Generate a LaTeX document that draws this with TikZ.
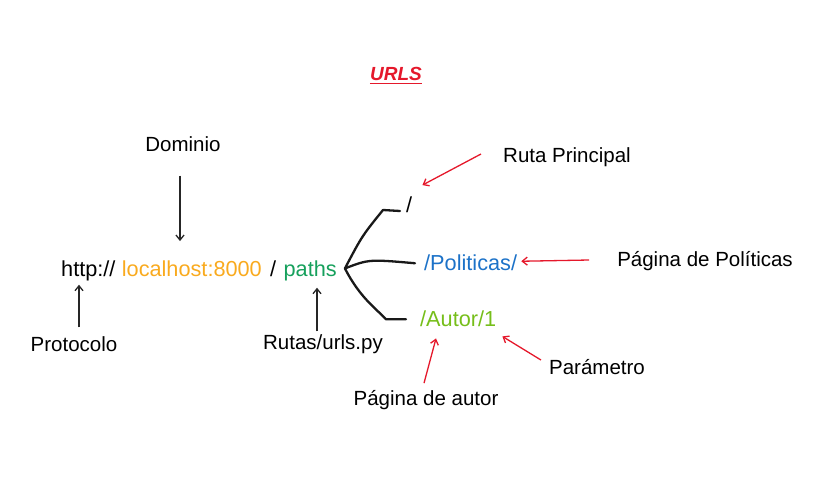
\documentclass[tikz,border=0pt]{standalone}
\usepackage{fontspec}
\setmainfont{Liberation Sans}
\usetikzlibrary{arrows.meta,calc,positioning}
\definecolor{naranja}{HTML}{F9AA1E}
\definecolor{verde}{HTML}{16A05C}
\definecolor{azul}{HTML}{1C72C8}
\definecolor{lima}{HTML}{76BE1A}
\definecolor{rojo}{HTML}{E5182B}
\begin{document}
\begin{tikzpicture}[
  x=1pt, y=-1pt,
  every node/.style={inner sep=0pt, font=\fontsize{20.5}{24}\selectfont},
  url/.style={anchor=base west, font=\fontsize{21.7}{26}\selectfont},
  flecha/.style={draw=black!85, line width=1.3pt, -{Straight Barb[length=5pt,width=8pt]}},
  flecha roja/.style={flecha, draw=rojo},
  rama/.style={draw=black!90, line width=2.3pt, line cap=round, line join=round}
]
\useasboundingbox (0,0) rectangle (818,482);
\node[text=rojo, font=\fontsize{19}{22}\selectfont\bfseries\itshape] (titulo) at (396,74) {URLS};
\draw[rojo, line width=1.6pt] ($(titulo.south west)+(0,2.5)$) -- ($(titulo.south east)+(0,2.5)$);
\node (dominio) at (183,144) {Dominio};
\node[url] (http) at (61,276) {http://};
\node[url, right=6pt of http.base east, anchor=base west, text=naranja] (host) {localhost:8000};
\node[url, right=8pt of host.base east, anchor=base west] (barra) {/};
\node[url, right=7pt of barra.base east, anchor=base west, text=verde] (paths) {paths};
\node (protocolo) at (74,344) {Protocolo};
\node (rutas) at (323,344) {Rutas/urls.py};
\node[url] (raiz) at (406,212) {/};
\node[url, text=azul] (politicas) at (424,270) {/Politicas/};
\node[url, text=lima] (autor) at (420,326) {/Autor/1};
\node (rutaprincipal) at (567,157) {Ruta Principal};
\node (paginapoliticas) at (705,261) {Página de Políticas};
\node (parametro) at (597,367) {Parámetro};
\node (paginaautor) at (426,400) {Página de autor};
\coordinate (nudo) at ($(paths.east)+(8,-2)$);
\draw[flecha] ($(dominio.south)+(-3,24)$) -- ($(dominio.south |- host.north)+(-3,-19)$);
\draw[flecha] ($(protocolo.north)+(5,-9)$) -- ($(protocolo.north |- http.south)+(5,4)$);
\draw[flecha] ($(rutas.north)+(-6,-3)$) -- ($(rutas.north |- paths.south)+(-6,7)$);
\draw[rama] (nudo) .. controls ($(raiz.base west)+(-44,24)$) .. ($(raiz.base west)+(-23,-2)$) -- ($(raiz.base west)+(-6,-1)$);
\draw[rama] (nudo) .. controls ($(politicas.west)+(-55,-3)$) .. ($(politicas.west)+(-9,1)$);
\draw[rama] (nudo) .. controls ($(autor.west)+(-60,-20)$) and ($(autor.west)+(-42,-8)$) .. ($(autor.west)+(-34,1)$) -- ($(autor.west)+(-14,1)$);
\draw[flecha roja] ($(rutaprincipal.west)+(-22,-3)$) -- ($(raiz.north east)+(10,-11)$);
\draw[flecha roja] ($(paginapoliticas.west)+(-28,-1)$) -- ($(politicas.east)+(4,-1)$);
\draw[flecha roja] ($(parametro.west)+(-8,-7)$) -- ($(autor.south east)+(6,10)$);
\draw[flecha roja] ($(paginaautor.north)+(-2,-7)$) -- ($(autor.south west)+(16,12)$);
\end{tikzpicture}
\end{document}
